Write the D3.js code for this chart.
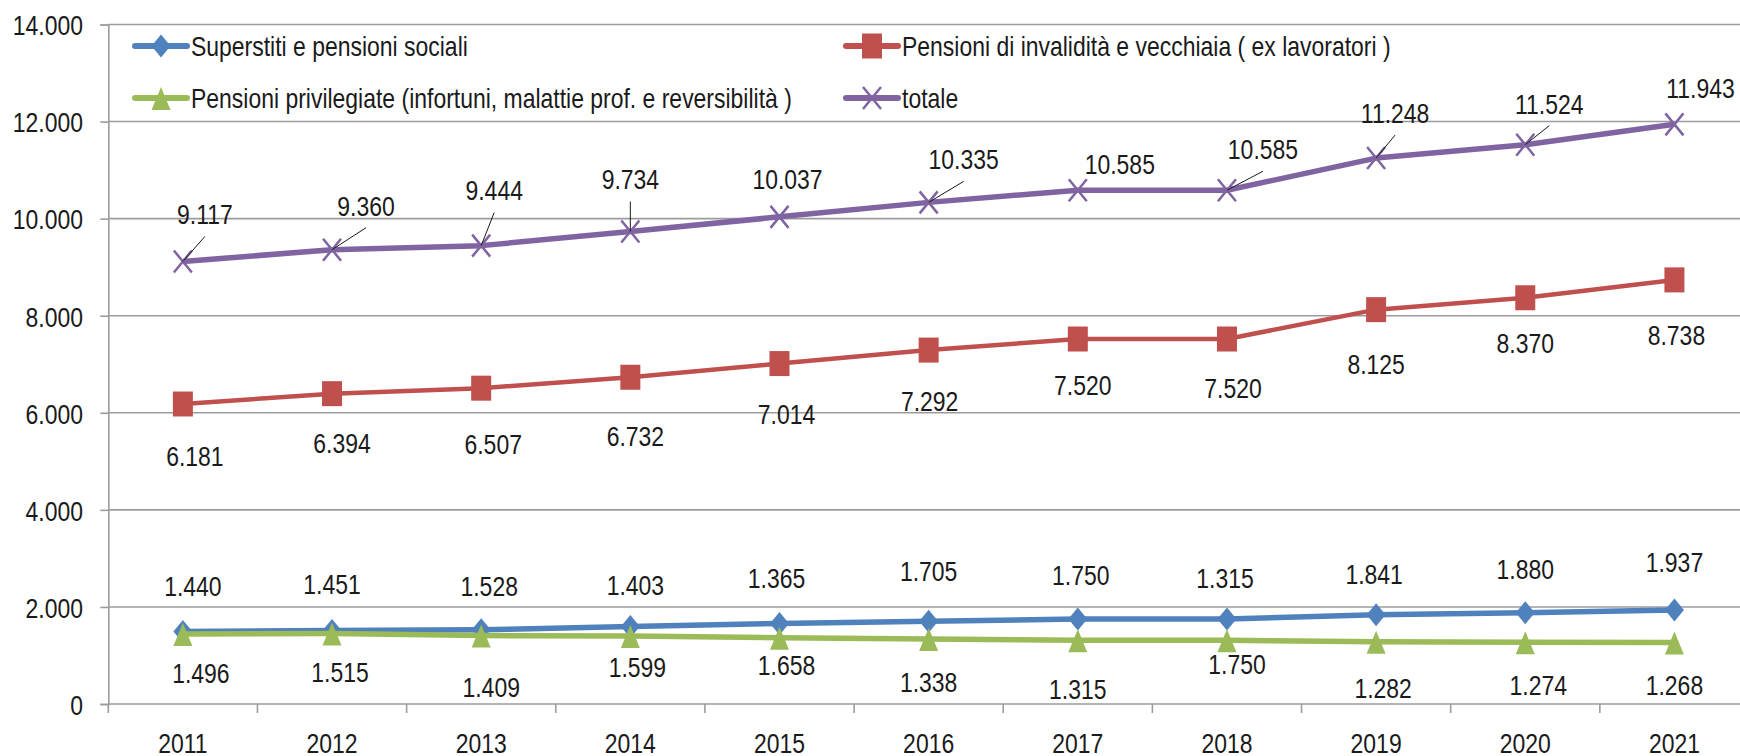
<!DOCTYPE html>
<html lang="it">
<head>
  <meta charset="UTF-8">
  <title>Pensioni 2011-2021</title>
  <style>
    body {
      margin: 0;
      background: #fff;
    }

    svg text {
      font-family: "Liberation Sans", Arial, sans-serif;
      fill: #1a1a1a;
    }
  </style>
</head>
<body>
  <svg id="chart" width="1740" height="756"></svg>

  <script src="https://d3js.org/d3.v7.min.js"></script>
  <script>
    // values
    const years = ["2011", "2012", "2013", "2014", "2015", "2016", "2017", "2018", "2019", "2020", "2021"];
    const superstiti = [1496, 1515, 1528, 1599, 1658, 1705, 1750, 1750, 1841, 1880, 1937];
    const invalidita = [6181, 6394, 6507, 6732, 7014, 7292, 7520, 7520, 8125, 8370, 8738];
    const privilegiate = [1440, 1451, 1409, 1403, 1365, 1338, 1315, 1315, 1282, 1274, 1268];
    const totale = [9117, 9360, 9444, 9734, 10037, 10335, 10585, 10585, 11248, 11524, 11943];

    // the two low series have their printed labels swapped around in the original
    const labelsAbove = [1440, 1451, 1528, 1403, 1365, 1705, 1750, 1315, 1841, 1880, 1937];
    const labelsBelow = [1496, 1515, 1409, 1599, 1658, 1338, 1315, 1750, 1282, 1274, 1268];

    const yTicks = [0, 2000, 4000, 6000, 8000, 10000, 12000, 14000];

    // label nudges in px (dx, dy) as placed by hand in the original
    const nudgeTotale = [[22, -47], [34, -44], [13, -55], [0, -52], [8, -38], [35, -43], [42, -26], [36, -41], [19, -45], [24, -41], [26, -36]];
    const nudgeInvalidita = [[12, 52], [10, 49], [12, 56], [5, 59], [7, 51], [1, 51], [5, 46], [6, 49], [0, 55], [0, 45], [2, 55]];
    const nudgeAbove = [[10, -45], [0, -46], [8, -44], [5, -41], [-3, -45], [0, -50], [3, -44], [-2, -41], [-2, -40], [0, -44], [0, -48]];
    const nudgeBelow = [[18, 39], [8, 39], [10, 52], [7, 31], [7, 27], [0, 43], [0, 49], [10, 24], [7, 46], [13, 43], [0, 43]];

    const it = d3.formatLocale({decimal: ",", thousands: ".", grouping: [3], currency: ["€", ""]});
    const fmt = it.format(",d");

    const svg = d3.select("#chart");
    const fontSize = 28;
    const squeeze = 0.82; // narrow look of the original font

    const x = d3.scaleBand().domain(years).range([108.3, 1749]);
    const y = d3.scaleLinear().domain([0, 14000]).range([704, 24.5]);
    const cx = d => x(d) + x.bandwidth() / 2;

    const gridColor = "#9c9c9c";

    // text drawn condensed around its anchor point
    function label(parent, px, py, str, anchor) {
      return parent.append("text")
        .attr("transform", `translate(${px},${py}) scale(${squeeze},1)`)
        .attr("text-anchor", anchor || "middle")
        .attr("dominant-baseline", "central")
        .attr("font-size", fontSize)
        .text(str);
    }

    // gridlines
    svg.append("g")
      .selectAll("line")
      .data(yTicks.filter(t => t > 0))
      .enter()
      .append("line")
      .attr("x1", x.range()[0])
      .attr("x2", x.range()[1])
      .attr("y1", d => y(d))
      .attr("y2", d => y(d))
      .attr("stroke", gridColor)
      .attr("stroke-width", 1.6);

    // y axis
    const yAxis = svg.append("g")
      .attr("transform", `translate(${x.range()[0]},0)`)
      .call(d3.axisLeft(y).tickValues(yTicks).tickFormat("").tickSize(8));
    yAxis.select(".domain").attr("stroke", gridColor).attr("stroke-width", 1.6);
    yAxis.selectAll(".tick line").attr("stroke", gridColor).attr("stroke-width", 1.6);
    yAxis.selectAll(".tick text").remove();
    yTicks.forEach(t => label(svg, 83, y(t) + 1, fmt(t), "end"));

    // x axis, ticks between categories
    const xAxis = svg.append("g").attr("transform", `translate(0,${y(0)})`);
    xAxis.append("line")
      .attr("x1", x.range()[0])
      .attr("x2", x.range()[1])
      .attr("stroke", gridColor)
      .attr("stroke-width", 1.6);
    xAxis.selectAll(".xt")
      .data(years.concat(["end"]))
      .enter()
      .append("line")
      .attr("class", "xt")
      .attr("x1", (d, i) => x.range()[0] + i * x.bandwidth())
      .attr("x2", (d, i) => x.range()[0] + i * x.bandwidth())
      .attr("y1", 0)
      .attr("y2", 9)
      .attr("stroke", gridColor)
      .attr("stroke-width", 1.6);
    years.forEach(d => label(xAxis, cx(d), 39, d));

    // marker shapes
    const markers = {
      diamond: g => g.append("path").attr("d", "M0,-11.5L9.5,0L0,11.5L-9.5,0Z"),
      square: g => g.append("rect").attr("x", -10).attr("y", -12.5).attr("width", 20).attr("height", 25),
      triangle: g => g.append("path").attr("d", "M0,-11L9.5,12L-9.5,12Z"),
      cross: g => g.append("path").attr("d", "M-9,-11L9,11M-9,11L9,-11")
    };

    const series = [
      {name: "Superstiti e pensioni sociali", values: superstiti, color: "#4f81bd", marker: "diamond", width: 5.5},
      {name: "Pensioni di invalidità e vecchiaia ( ex lavoratori )", values: invalidita, color: "#c0504d", marker: "square", width: 4.5},
      {name: "Pensioni privilegiate (infortuni, malattie prof. e reversibilità )", values: privilegiate, color: "#9bbb59", marker: "triangle", width: 5.5},
      {name: "totale", values: totale, color: "#8064a2", marker: "cross", width: 5.5}
    ];

    function styleMarker(sel, s) {
      if (s.marker === "cross") {
        sel.attr("fill", "none").attr("stroke", s.color).attr("stroke-width", 2.5);
      } else {
        sel.attr("fill", s.color).attr("stroke", "none");
      }
    }

    const line = d3.line().x((d, i) => cx(years[i])).y(d => y(d));

    series.forEach(s => {
      svg.append("path")
        .datum(s.values)
        .attr("d", line)
        .attr("fill", "none")
        .attr("stroke", s.color)
        .attr("stroke-width", s.width)
        .attr("stroke-linejoin", "round");

      s.values.forEach((v, i) => {
        const g = svg.append("g").attr("transform", `translate(${cx(years[i])},${y(v)})`);
        styleMarker(markers[s.marker](g), s);
      });
    });

    // data labels
    function addLabels(texts, anchorValues, nudges, leaders) {
      texts.forEach((t, i) => {
        const px = cx(years[i]);
        const py = y(anchorValues[i]);
        const lx = px + nudges[i][0];
        const ly = py + nudges[i][1];
        if (leaders && nudges[i][1] < -40) {
          svg.append("line")
            .attr("x1", px).attr("y1", py)
            .attr("x2", lx).attr("y2", ly + 22)
            .attr("stroke", "#1a1a1a")
            .attr("stroke-width", 1);
        }
        label(svg, lx, ly, fmt(t));
      });
    }

    addLabels(totale, totale, nudgeTotale, true);
    addLabels(invalidita, invalidita, nudgeInvalidita, false);
    addLabels(labelsAbove, superstiti, nudgeAbove, false);
    addLabels(labelsBelow, privilegiate, nudgeBelow, false);

    // legend, two columns
    const legendPos = [[135, 46], [846, 46], [135, 98], [846, 98]];
    series.forEach((s, i) => {
      const g = svg.append("g").attr("transform", `translate(${legendPos[i][0]},${legendPos[i][1]})`);
      g.append("line")
        .attr("x1", 0).attr("x2", 52)
        .attr("stroke", s.color)
        .attr("stroke-width", 6)
        .attr("stroke-linecap", "round");
      const m = g.append("g").attr("transform", "translate(26,0)");
      styleMarker(markers[s.marker](m), s);
      label(g, 56, 0, s.name, "start");
    });
  </script>
</body>
</html>
